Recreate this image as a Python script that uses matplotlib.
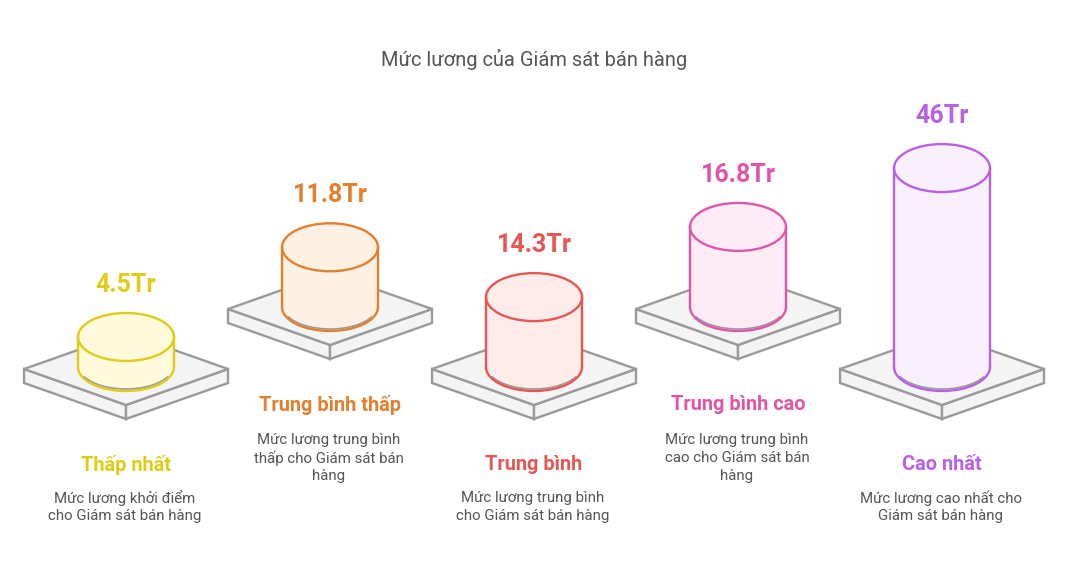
#!/usr/bin/env python3
"""Salary levels drawn as cylinders standing on small isometric plates."""

import matplotlib.pyplot as plt
from matplotlib.patches import Arc, Ellipse, Polygon, Rectangle

TITLE = "Mức lương của Giám sát bán hàng"
categories = ["Thấp nhất", "Trung bình thấp", "Trung bình", "Trung bình cao", "Cao nhất"]
values = [4.5, 11.8, 14.3, 16.8, 46]
value_labels = ["4.5Tr", "11.8Tr", "14.3Tr", "16.8Tr", "46Tr"]
descriptions = [
    "Mức lương khởi điểm\ncho Giám sát bán hàng",
    "Mức lương trung bình\nthấp cho Giám sát bán\nhàng",
    "Mức lương trung bình\ncho Giám sát bán hàng",
    "Mức lương trung bình\ncao cho Giám sát bán\nhàng",
    "Mức lương cao nhất cho\nGiám sát bán hàng",
]
edge_colors = ["#e0cb15", "#e37f2d", "#e55753", "#e055a8", "#b860e6"]
fill_colors = ["#fefadb", "#fef0e3", "#feecea", "#fdebf6", "#f9f0fe"]

GREY = "#9a9a9a"
TEXT = "#555555"
LW = 1.7

plt.rcParams["font.family"] = ["Roboto", "DejaVu Sans"]


def bar_height(v):
    # pixel height of a cylinder body
    return 11.7 + 4.07 * v


def draw_plate(ax, cx, y):
    """y is the level of the left/right corners of the plate."""
    top = [(cx - 102, y), (cx, y - 36), (cx + 102, y), (cx, y + 36)]
    left = [(cx - 102, y), (cx, y + 36), (cx, y + 50), (cx - 102, y + 14)]
    right = [(cx + 102, y), (cx, y + 36), (cx, y + 50), (cx + 102, y + 14)]
    for pts in (left, right, top):
        ax.add_patch(Polygon(pts, closed=True, fc="#f4f4f4", ec=GREY, lw=LW, joinstyle="miter"))


def draw_cylinder(ax, cx, base_y, height, edge, fill):
    top_y = base_y - height
    # body fill first, then outline pieces on top
    ax.add_patch(Ellipse((cx, base_y), 96, 48, fc=fill, ec="none"))
    ax.add_patch(Rectangle((cx - 48, top_y), 96, height, fc=fill, ec="none"))
    # thin shadow line just inside the bottom edge
    ax.add_patch(Arc((cx, base_y - 2), 96, 48, theta1=15, theta2=165, ec=GREY, lw=1.2))
    ax.add_patch(Arc((cx, base_y), 96, 48, theta1=0, theta2=180, ec=edge, lw=LW))
    ax.plot([cx - 48, cx - 48], [top_y, base_y], color=edge, lw=LW)
    ax.plot([cx + 48, cx + 48], [top_y, base_y], color=edge, lw=LW)
    ax.add_patch(Ellipse((cx, top_y), 96, 48, fc=fill, ec=edge, lw=LW))


fig = plt.figure(figsize=(10.68, 5.73), dpi=100)
ax = fig.add_axes([0, 0, 1, 1])
ax.set_xlim(0, 1068)
ax.set_ylim(573, 0)
ax.axis("off")

ax.text(534, 60, TITLE, ha="center", va="center", fontsize=14.4, color=TEXT)

for i, v in enumerate(values):
    cx = 126 + 204 * i
    upper = i % 2 == 1  # every other column sits one row higher
    shift = -60 if upper else 0
    base_y = 367 + shift
    h = bar_height(v)

    draw_plate(ax, cx, 369 + shift)
    draw_cylinder(ax, cx, base_y, h, edge_colors[i], fill_colors[i])

    ax.text(cx, base_y - h - 52, value_labels[i], ha="center", va="center",
            fontsize=18, fontweight="bold", color=edge_colors[i])
    ax.text(cx, 465 + shift, categories[i], ha="center", va="center",
            fontsize=14.4, fontweight="bold", color=edge_colors[i])
    first_line = 440 if upper else 498
    for j, line in enumerate(descriptions[i].split("\n")):
        ax.text(cx - 1, first_line + 18 * j, line, ha="center", va="center",
                fontsize=10.8, color=TEXT)

fig.savefig("out.png", dpi=100)
plt.close(fig)
